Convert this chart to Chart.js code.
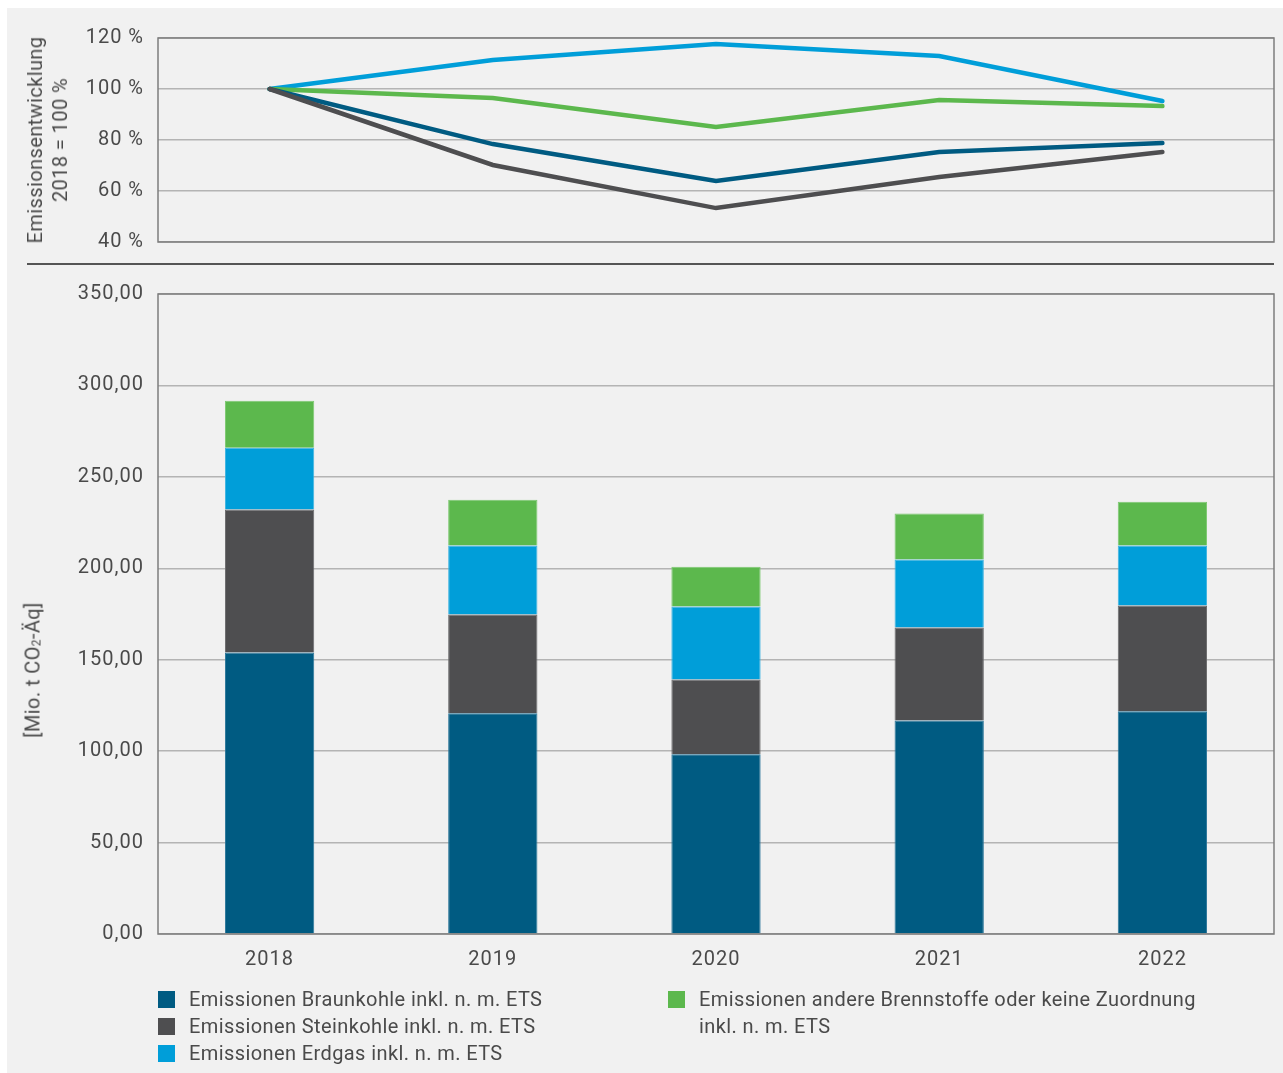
<!DOCTYPE html>
<html lang="de">
<head>
<meta charset="utf-8">
<title>Emissionen nach Brennstoff 2018–2022</title>
<script src="https://cdn.jsdelivr.net/npm/chart.js@4.4.1/dist/chart.umd.min.js"></script>
<style>
  html, body { margin: 0; padding: 0; background: #ffffff; }
  body { width: 1283px; height: 1073px; position: relative; overflow: hidden;
         font-family: Roboto, "Open Sans", sans-serif; color: #4a4a4a; letter-spacing: 0.4px; }
  #panel { position: absolute; left: 7px; top: 8px; width: 1276px; height: 1065px; background: #f1f1f1; }
  canvas { position: absolute; left: 0; }
  #lineWrap { position: absolute; left: 0; top: 0; width: 1283px; height: 268px; }
  #barWrap { position: absolute; left: 0; top: 268px; width: 1283px; height: 720px; }
  .ytitle { position: absolute; transform: translate(-50%, -50%) rotate(-90deg);
            white-space: nowrap; font-size: 20px; line-height: 25px; text-align: center; }
  #sep { position: absolute; left: 27px; top: 263px; width: 1247px; height: 2px; background: #555555; }
  .legend { position: absolute; font-size: 20px; line-height: 27px; }
  .legend div { position: relative; padding-left: 31px; white-space: nowrap; }
  .legend span { position: absolute; left: 0; top: 5px; width: 17px; height: 17px; }
</style>
</head>
<body>
<div id="panel"></div>
<div id="lineWrap"><canvas id="lineChart" width="1283" height="268"></canvas></div>
<div id="barWrap"><canvas id="barChart" width="1283" height="720"></canvas></div>
<div id="sep"></div>

<div class="ytitle" style="left:48px; top:140px;">Emissionsentwicklung<br>2018 = 100 %</div>
<div class="ytitle" style="left:35px; top:670px;">[Mio. t CO<sub style="font-size:12px;vertical-align:-1px;">2</sub>-Äq]</div>

<div class="legend" style="left:158px; top:986px;">
  <div><span style="background:#005b82"></span>Emissionen Braunkohle inkl. n. m. ETS</div>
  <div><span style="background:#4e4e50"></span>Emissionen Steinkohle inkl. n. m. ETS</div>
  <div><span style="background:#009ed9"></span>Emissionen Erdgas inkl. n. m. ETS</div>
</div>
<div class="legend" style="left:668px; top:986px;">
  <div><span style="background:#5cb84d"></span>Emissionen andere Brennstoffe oder keine Zuordnung<br>inkl. n. m. ETS</div>
</div>

<script>
// Jahre
const jahre = ['2018', '2019', '2020', '2021', '2022'];

// Emissionen in Mio. t CO2-Äq
const braunkohle = [154.0, 120.7, 98.3, 116.8, 121.8];
const steinkohle = [78.1, 54.0, 40.9, 50.8, 57.8];
const erdgas = [33.8, 37.7, 39.9, 37.2, 32.8];
const andere = [25.7, 25.1, 21.8, 25.1, 24.0];

// Emissionsentwicklung, 2018 = 100 %
const idxBraunkohle = [100, 78.4, 63.9, 75.3, 78.8];
const idxSteinkohle = [100, 70.2, 53.3, 65.5, 75.3];
const idxErdgas = [100, 111.4, 117.6, 112.9, 95.3];
const idxAndere = [100, 96.5, 85.1, 95.7, 93.3];

// Achsen
const prozentTicks = [40, 60, 80, 100, 120];
const mengeTicks = [0, 50, 100, 150, 200, 250, 300, 350];

const farben = {
    braun: '#005b82',
    stein: '#4e4e50',
    gas: '#009ed9',
    andere: '#5cb84d'
};

const schrift = { family: 'Roboto, "Open Sans", sans-serif', size: 20 };
const textFarbe = '#4a4a4a';

// etwas Sperrung für die Achsenbeschriftung
const sperrung = {
    id: 'sperrung',
    beforeDraw(chart) { chart.ctx.letterSpacing = '1px'; }
};

// Rahmen um die Zeichenfläche
const rahmen = {
    id: 'rahmen',
    afterDraw(chart) {
        const a = chart.chartArea;
        const ctx = chart.ctx;
        ctx.save();
        ctx.strokeStyle = '#7d7d7d';
        ctx.lineWidth = 1.5;
        ctx.strokeRect(a.left, a.top, a.right - a.left, a.bottom - a.top);
        ctx.restore();
    }
};

// Liniendiagramm oben
new Chart(document.getElementById('lineChart'), {
    type: 'line',
    data: {
        labels: jahre,
        datasets: [
            { label: 'Steinkohle', data: idxSteinkohle, borderColor: farben.stein },
            { label: 'Braunkohle', data: idxBraunkohle, borderColor: farben.braun },
            { label: 'Andere', data: idxAndere, borderColor: farben.andere },
            { label: 'Erdgas', data: idxErdgas, borderColor: farben.gas }
        ].map(d => Object.assign(d, {
            borderWidth: 4.5, pointRadius: 0, tension: 0, borderCapStyle: 'round', fill: false
        }))
    },
    options: {
        responsive: false,
        animation: false,
        layout: { padding: { top: 38, bottom: 14, right: 9, left: 0 } },
        plugins: { legend: { display: false }, tooltip: { enabled: false } },
        scales: {
            x: { display: false, offset: true },
            y: {
                min: 40, max: 120,
                afterBuildTicks(scale) { scale.ticks = prozentTicks.map(v => ({ value: v })); },
                afterFit(scale) { scale.width = 158; },
                grid: { color: '#b4b4b4', lineWidth: 1.5, drawTicks: false },
                border: { display: false },
                ticks: {
                    padding: 14, color: textFarbe, font: schrift,
                    callback: v => v + ' %'
                }
            }
        }
    },
    plugins: [sperrung, rahmen]
});

// Gestapeltes Säulendiagramm unten
new Chart(document.getElementById('barChart'), {
    type: 'bar',
    data: {
        labels: jahre,
        datasets: [
            { label: 'Emissionen Braunkohle inkl. n. m. ETS', data: braunkohle, backgroundColor: farben.braun, borderColor: '#2a7699' },
            { label: 'Emissionen Steinkohle inkl. n. m. ETS', data: steinkohle, backgroundColor: farben.stein, borderColor: '#6a6a6c' },
            { label: 'Emissionen Erdgas inkl. n. m. ETS', data: erdgas, backgroundColor: farben.gas, borderColor: '#3db3e0' },
            { label: 'Emissionen andere Brennstoffe oder keine Zuordnung inkl. n. m. ETS', data: andere, backgroundColor: farben.andere, borderColor: '#7cc870' }
        ].map(d => Object.assign(d, {
            borderWidth: 1, barPercentage: 0.4, categoryPercentage: 1
        }))
    },
    options: {
        responsive: false,
        animation: false,
        layout: { padding: { top: 24, bottom: 0, right: 9, left: 0 } },
        plugins: { legend: { display: false }, tooltip: { enabled: false } },
        scales: {
            x: {
                stacked: true,
                afterFit(scale) { scale.height = 54; },
                grid: { display: false },
                border: { display: false },
                ticks: { padding: 6, color: textFarbe, font: schrift }
            },
            y: {
                stacked: true,
                min: 0, max: 350,
                afterBuildTicks(scale) { scale.ticks = mengeTicks.map(v => ({ value: v })); },
                afterFit(scale) { scale.width = 158; },
                grid: { color: '#b4b4b4', lineWidth: 1.5, drawTicks: false },
                border: { display: false },
                ticks: {
                    padding: 14, color: textFarbe, font: schrift,
                    callback: v => v.toFixed(2).replace('.', ',')
                }
            }
        }
    },
    plugins: [sperrung, rahmen]
});
</script>
</body>
</html>
